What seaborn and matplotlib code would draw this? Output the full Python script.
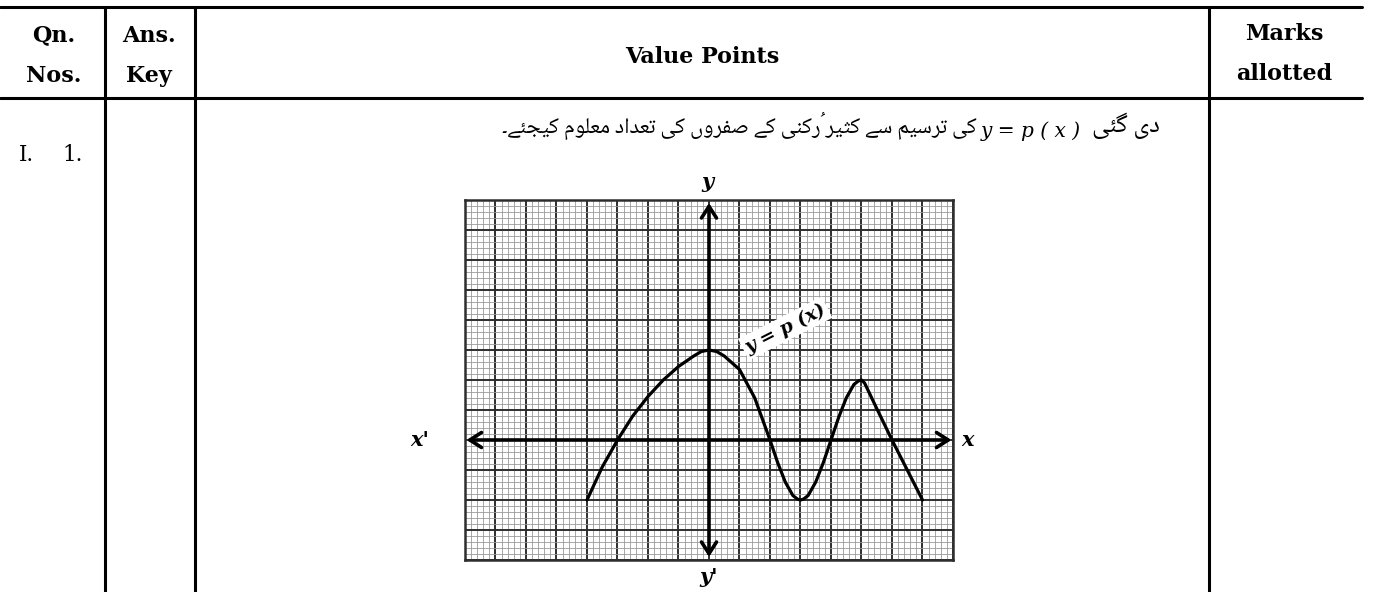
import numpy as np
import matplotlib
matplotlib.use("Agg")
import matplotlib.pyplot as plt
import seaborn as sns
import pandas as pd
from matplotlib.lines import Line2D
from matplotlib.ticker import MultipleLocator

# --- data (grid units) ---
curve_x = [-4, -3.5, -3, -2.5, -2, -1.5, -1, -0.5, -0.25, 0, 0.25, 0.5, 1,
           1.5, 2, 2.25, 2.5, 2.75, 2.9, 3, 3.1, 3.25, 3.5, 3.75, 4, 4.25,
           4.5, 4.75, 4.9, 5, 5.1, 5.5, 6, 6.5, 7]
curve_y = [-2, -0.9, 0, 0.8, 1.45, 2.0, 2.45, 2.8, 2.95, 3.0, 2.95, 2.8, 2.35,
           1.4, 0, -0.75, -1.4, -1.85, -1.97, -2, -1.97, -1.85, -1.4, -0.75, 0,
           0.75, 1.4, 1.85, 1.97, 2.0, 1.9, 1.05, 0, -1.0, -2]
x_range = (-8, 8)
y_range = (-4, 8)

header_left = ["Qn.\nNos.", "Ans.\nKey"]
header_mid = "Value Points"
header_right = "Marks\nallotted"
row_label = ["I.", "1."]
question_main = "کی ترسیم سے کثیر رُکنی کے صفروں کی تعداد معلوم کیجئے۔"
question_latin = "y = p ( x )"
question_head = "دی گئی"
curve_label = "y = p (x)"

W, H = 1384, 592
URDU_FONTS = ["Noto Naskh Arabic", "Amiri", "Noto Sans Arabic", "DejaVu Sans"]

# --- minimal Urdu shaping (matplotlib has no bidi / joining) ---
FORMS = {
    'ا': ('\uFE8D', '\uFE8E', None, None),
    'د': ('\uFEA9', '\uFEAA', None, None),
    'ر': ('\uFEAD', '\uFEAE', None, None),
    'و': ('\uFEED', '\uFEEE', None, None),
    'ے': ('\uFBAE', '\uFBAF', None, None),
    'ں': ('\uFB9E', '\uFB9F', None, None),
    'ت': ('\uFE95', '\uFE96', '\uFE97', '\uFE98'),
    'ث': ('\uFE99', '\uFE9A', '\uFE9B', '\uFE9C'),
    'ج': ('\uFE9D', '\uFE9E', '\uFE9F', '\uFEA0'),
    'س': ('\uFEB1', '\uFEB2', '\uFEB3', '\uFEB4'),
    'ص': ('\uFEB9', '\uFEBA', '\uFEBB', '\uFEBC'),
    'ع': ('\uFEC9', '\uFECA', '\uFECB', '\uFECC'),
    'ف': ('\uFED1', '\uFED2', '\uFED3', '\uFED4'),
    'ل': ('\uFEDD', '\uFEDE', '\uFEDF', '\uFEE0'),
    'م': ('\uFEE1', '\uFEE2', '\uFEE3', '\uFEE4'),
    'ن': ('\uFEE5', '\uFEE6', '\uFEE7', '\uFEE8'),
    'ئ': ('\uFE89', '\uFE8A', '\uFE8B', '\uFE8C'),
    'ک': ('\uFB8E', '\uFB8F', '\uFB90', '\uFB91'),
    'گ': ('\uFB92', '\uFB93', '\uFB94', '\uFB95'),
    'ی': ('\uFBFC', '\uFBFD', '\uFBFE', '\uFBFF'),
}
MARKS = {'\u064F'}


def shape_rtl(text):
    chars = list(text)
    bases = [i for i, c in enumerate(chars) if c not in MARKS]

    def neighbour(i, step):
        k = bases.index(i) + step
        return chars[bases[k]] if 0 <= k < len(bases) else None

    clusters = []
    for i, c in enumerate(chars):
        if c in MARKS:
            clusters[-1] += c
            continue
        if c in FORMS:
            prev, nxt = neighbour(i, -1), neighbour(i, 1)
            jp = prev in FORMS and FORMS[prev][2] is not None
            jn = nxt in FORMS and FORMS[c][2] is not None
            iso, fin, ini, med = FORMS[c]
            c = med if (jp and jn) else fin if jp else ini if jn else iso
        clusters.append(c)
    return "".join(reversed(clusters))


def fx(x):
    return x / W


def fy(y):
    return 1 - y / H


def fit_width(txt, width_px):
    # scale font so the text spans the width measured on the reference
    r = fig.canvas.get_renderer()
    w = txt.get_window_extent(renderer=r).width
    txt.set_fontsize(txt.get_fontsize() * width_px / w)


sns.set_theme(style="white")
plt.rcParams["font.family"] = ["DejaVu Sans"]

fig = plt.figure(figsize=(W / 100, H / 100), dpi=100)

# --- table rules ---
rule = dict(color="black", lw=2.2, transform=fig.transFigure)
for yy in (7, 98):
    fig.add_artist(Line2D([fx(0), fx(1362)], [fy(yy), fy(yy)], **rule))
for xx in (105, 195, 1209):
    fig.add_artist(Line2D([fx(xx), fx(xx)], [fy(7), fy(H + 2)], **rule))

head_font = dict(family="DejaVu Serif", fontweight="bold", fontsize=16,
                 ha="center", va="center", linespacing=2.1, color="black")
fig.text(fx(54), fy(56), header_left[0], **head_font)
fig.text(fx(149), fy(56), header_left[1], **head_font)
fig.text(fx(702), fy(57), header_mid, **head_font)
fig.text(fx(1284), fy(54), header_right, **head_font)
fig.text(fx(26), fy(155), row_label[0], family="DejaVu Serif", fontsize=15.5,
         ha="center", va="center", color="black")
fig.text(fx(73), fy(155), row_label[1], family="DejaVu Serif", fontsize=15.5,
         ha="center", va="center", color="black")

# --- question line ---
t_main = fig.text(fx(977), fy(126), shape_rtl(question_main),
                  family=URDU_FONTS, fontsize=15, ha="right", va="center",
                  color="black")
t_lat = fig.text(fx(981), fy(131), question_latin, family="DejaVu Serif",
                 style="italic", fontsize=15, ha="left", va="center",
                 color="black")
fit_width(t_main, 474)
fit_width(t_lat, 100)
fig.text(fx(1092), fy(126), shape_rtl(question_head), family=URDU_FONTS,
         fontsize=t_main.get_fontsize() * 1.15, ha="left", va="center",
         color="black")

# --- graph paper ---
ax = fig.add_axes([fx(465), fy(560), (953 - 465) / W, (560 - 200) / H])
ax.set_xlim(*x_range)
ax.set_ylim(*y_range)
ax.xaxis.set_major_locator(MultipleLocator(1))
ax.yaxis.set_major_locator(MultipleLocator(1))
ax.xaxis.set_minor_locator(MultipleLocator(0.2))
ax.yaxis.set_minor_locator(MultipleLocator(0.2))
ax.grid(which="minor", color="#9a9a9a", lw=0.6)
ax.grid(which="major", color="#2e2e2e", lw=1.4)
ax.tick_params(which="both", length=0, labelbottom=False, labelleft=False)
for s in ax.spines.values():
    s.set_color("#2e2e2e")
    s.set_linewidth(1.8)
ax.set_axisbelow(True)

arrow = dict(arrowstyle="<->,head_length=0.7,head_width=0.45", lw=2.6,
             color="black", shrinkA=0, shrinkB=0)
ax.annotate("", xy=(x_range[1] - 0.05, 0), xytext=(x_range[0] + 0.05, 0),
            arrowprops=arrow, annotation_clip=False)
ax.annotate("", xy=(0, y_range[1] - 0.1), xytext=(0, y_range[0] + 0.1),
            arrowprops=arrow, annotation_clip=False)

df = pd.DataFrame({"x": curve_x, "y": curve_y})
sns.lineplot(data=df, x="x", y="y", ax=ax, color="black", lw=2.3, sort=False)
ax.set_xlabel("")
ax.set_ylabel("")

ax.text(2.5, 3.72, curve_label, family="DejaVu Serif", fontweight="bold",
        style="italic", fontsize=13.5, rotation=27, ha="center", va="center",
        color="black", bbox=dict(facecolor="white", edgecolor="none", pad=2))

lab = dict(family="DejaVu Serif", fontweight="bold", style="italic",
           fontsize=15, ha="center", va="center", color="black")
fig.text(fx(707), fy(182), "y", **lab)
fig.text(fx(709), fy(577), "y'", **lab)
fig.text(fx(420), fy(440), "x'", **lab)
fig.text(fx(968), fy(440), "x", **lab)

fig.savefig("out.png", dpi=100)
